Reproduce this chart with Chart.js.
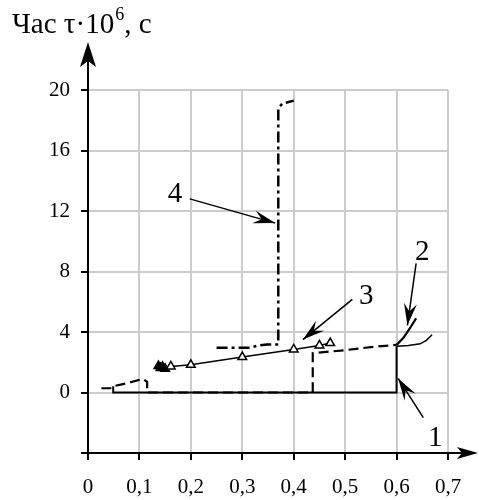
<!DOCTYPE html>
<html>
<head>
<meta charset="utf-8">
<script src="https://cdn.jsdelivr.net/npm/chart.js@4"></script>
<style>
html,body{margin:0;padding:0;background:#fff;}
canvas{display:block;}
</style>
</head>
<body>
<canvas id="c" width="479" height="500"></canvas>
<script>
// ---- data ----
const xTicks = [0, 0.1, 0.2, 0.3, 0.4, 0.5, 0.6, 0.7];
const yTicks = [-4, 0, 4, 8, 12, 16, 20];

const curve1X = [0.049, 0.049, 0.6, 0.6];
const curve1Y = [0.42, 0, 0, 3.05];

const curve1dX = [0.026, 0.046, 0.05, 0.08, 0.107, 0.115, 0.115, 0.437, 0.437, 0.5, 0.55, 0.6];
const curve1dY = [0.28, 0.28, 0.42, 0.65, 0.9, 0.7, 0, 0, 2.6, 2.8, 3.0, 3.15];

const curve2X = [0.6, 0.613, 0.625, 0.638];
const curve2Y = [3.15, 3.6, 4.2, 4.9];

const curve2bX = [0.6, 0.623, 0.646, 0.658, 0.669];
const curve2bY = [3.05, 3.1, 3.22, 3.45, 3.82];

const curve3X = [0.137, 0.141, 0.145, 0.15, 0.161, 0.2, 0.3, 0.4, 0.45, 0.471];
const curve3Y = [1.75, 1.62, 1.7, 1.57, 1.72, 1.83, 2.34, 2.85, 3.11, 3.27];

const curve4X = [0.25, 0.315, 0.33, 0.348, 0.37, 0.37, 0.378, 0.4];
const curve4Y = [2.96, 2.96, 3.1, 3.18, 3.18, 18.8, 19.1, 19.3];

// annotation labels (data units): label position, arrow start, arrow tip
const noteText  = ['1', '2', '3', '4'];
const noteLX    = [0.675, 0.65, 0.541, 0.169];
const noteLY    = [-3.05, 9.27, 6.36, 13.1];
const noteFromX = [0.652, 0.638, 0.514, 0.198];
const noteFromY = [-1.66, 8.54, 6.16, 12.8];
const noteToX   = [0.603, 0.621, 0.418, 0.364];
const noteToY   = [0.93, 4.44, 3.5, 11.2];

const titleMain = 'Час τ·10';
const titleSup = '6';
const titleEnd = ', с';

function pts(xs, ys) { return xs.map((x, i) => ({x: x, y: ys[i]})); }

const SERIF = '"Liberation Serif", "Times New Roman", serif';

function arrowHead(ctx, x1, y1, x2, y2, len, half, notch) {
  const a = Math.atan2(y2 - y1, x2 - x1);
  const c = Math.cos(a), s = Math.sin(a);
  const bx = x2 - len * c, by = y2 - len * s;
  ctx.beginPath();
  ctx.moveTo(x2, y2);
  ctx.lineTo(bx - half * s, by + half * c);
  ctx.lineTo(x2 - (len - notch) * c, y2 - (len - notch) * s);
  ctx.lineTo(bx + half * s, by - half * c);
  ctx.closePath();
  ctx.fill();
}

const decor = {
  id: 'decor',
  afterDraw(chart) {
    const ctx = chart.ctx;
    const xs = chart.scales.x, ys = chart.scales.y;
    const ox = xs.getPixelForValue(0);
    const oy = ys.getPixelForValue(-4);
    ctx.save();
    ctx.strokeStyle = '#000';
    ctx.fillStyle = '#000';
    ctx.lineWidth = 2;
    // y axis with arrow
    const yTip = ys.top - 48;
    ctx.beginPath();
    ctx.moveTo(ox, oy);
    ctx.lineTo(ox, yTip + 10);
    ctx.stroke();
    arrowHead(ctx, ox, oy, ox, yTip, 25, 8, 6);
    // x axis with arrow
    const xTip = xs.right + 30;
    ctx.beginPath();
    ctx.moveTo(ox, oy);
    ctx.lineTo(xTip - 10, oy);
    ctx.stroke();
    arrowHead(ctx, ox, oy, xTip, oy, 21, 6, 5);

    // annotations
    ctx.lineWidth = 1.5;
    ctx.font = '29px ' + SERIF;
    ctx.textAlign = 'center';
    ctx.textBaseline = 'middle';
    for (let i = 0; i < noteText.length; i++) {
      const fx = xs.getPixelForValue(noteFromX[i]), fy = ys.getPixelForValue(noteFromY[i]);
      const tx = xs.getPixelForValue(noteToX[i]), ty = ys.getPixelForValue(noteToY[i]);
      ctx.beginPath();
      ctx.moveTo(fx, fy);
      ctx.lineTo(tx, ty);
      ctx.stroke();
      arrowHead(ctx, fx, fy, tx, ty, 22, 6.5, 8);
      ctx.fillText(noteText[i], xs.getPixelForValue(noteLX[i]), ys.getPixelForValue(noteLY[i]));
    }

    // title
    ctx.textAlign = 'left';
    ctx.textBaseline = 'alphabetic';
    ctx.font = '29px ' + SERIF;
    let tx0 = 12, base = 33;
    ctx.fillText(titleMain, tx0, base);
    tx0 += ctx.measureText(titleMain).width;
    ctx.font = '18px ' + SERIF;
    ctx.fillText(titleSup, tx0 + 1, base - 13);
    tx0 += ctx.measureText(titleSup).width + 1;
    ctx.font = '29px ' + SERIF;
    ctx.fillText(titleEnd, tx0, base);
    ctx.restore();
  }
};

const lineBase = {showLine: true, pointRadius: 0, borderColor: '#000', backgroundColor: '#000', tension: 0, fill: false};
const tri3Fill = curve3X.map((x, i) => i < 4 ? '#000' : '#fff');

new Chart(document.getElementById('c'), {
  type: 'scatter',
  data: {
    datasets: [
      Object.assign({}, lineBase, {label: '1', data: pts(curve1X, curve1Y), borderWidth: 2}),
      Object.assign({}, lineBase, {label: '1d', data: pts(curve1dX, curve1dY), borderWidth: 2.2, borderDash: [10, 5]}),
      Object.assign({}, lineBase, {label: '2', data: pts(curve2X, curve2Y), borderWidth: 2.2}),
      Object.assign({}, lineBase, {label: '2b', data: pts(curve2bX, curve2bY), borderWidth: 1.5}),
      Object.assign({}, lineBase, {label: '4', data: pts(curve4X, curve4Y), borderWidth: 2.5, borderDash: [11, 4, 3, 4]}),
      Object.assign({}, lineBase, {label: '3', data: pts(curve3X, curve3Y), borderWidth: 1.5,
        pointRadius: 5, pointStyle: 'triangle', pointBackgroundColor: tri3Fill, pointBorderColor: '#000', pointBorderWidth: 1.5})
    ]
  },
  options: {
    responsive: false,
    animation: false,
    devicePixelRatio: 1,
    layout: {padding: {left: 0, top: 90, right: 31, bottom: 0}},
    plugins: {legend: {display: false}, tooltip: {enabled: false}},
    scales: {
      x: {
        type: 'linear', min: 0, max: 0.7,
        afterFit(s) { s.height = 47; s.paddingLeft = 0; s.paddingRight = 0; },
        afterBuildTicks(s) { s.ticks = xTicks.map(v => ({value: v})); },
        ticks: {
          color: '#000', font: {family: SERIF, size: 21}, padding: 15, maxRotation: 0, autoSkip: false,
          callback: v => v === 0 ? '0' : v.toFixed(1).replace('.', ',')
        },
        grid: {color: '#cccccc', lineWidth: 2, tickColor: '#000', tickLength: 7, tickWidth: 2},
        border: {display: false}
      },
      y: {
        type: 'linear', min: -4, max: 20,
        afterFit(s) { s.width = 88; },
        afterBuildTicks(s) { s.ticks = yTicks.map(v => ({value: v})); },
        ticks: {
          color: '#000', font: {family: SERIF, size: 21}, padding: 11, autoSkip: false,
          callback: v => v === -4 ? '' : String(v)
        },
        grid: {color: '#cccccc', lineWidth: 2, tickColor: '#000', tickLength: 7, tickWidth: 2},
        border: {display: false}
      }
    }
  },
  plugins: [decor]
});
</script>
</body>
</html>
